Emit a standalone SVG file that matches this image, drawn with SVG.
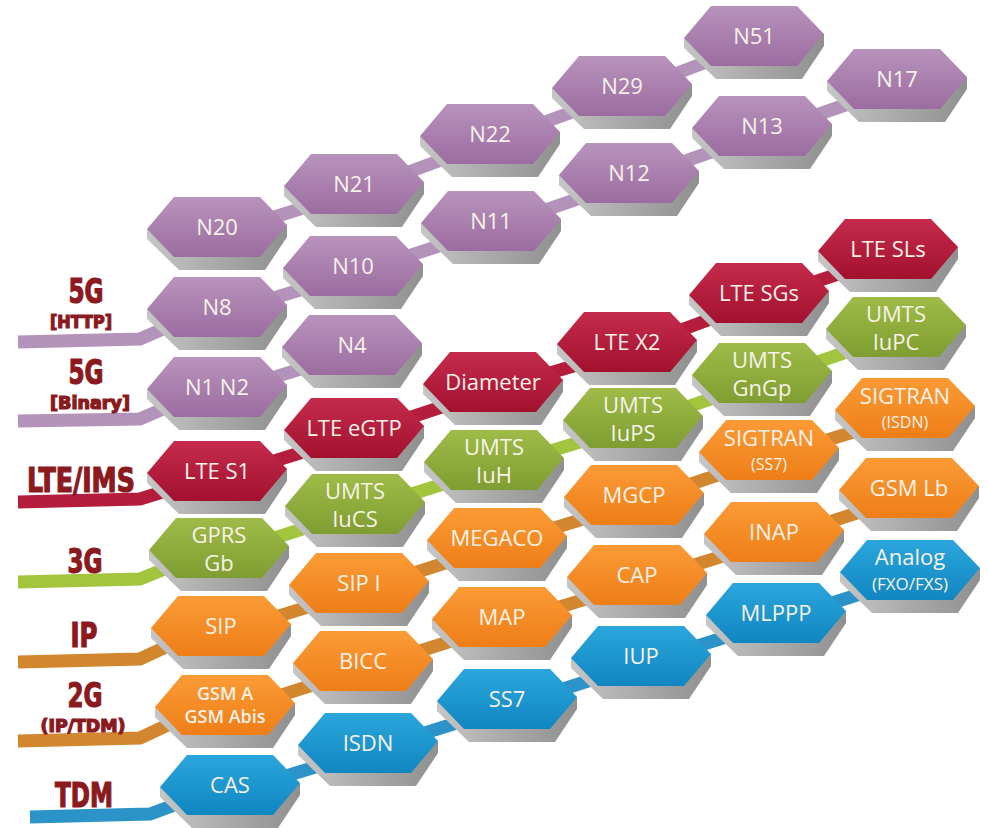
<svg xmlns="http://www.w3.org/2000/svg" xmlns:xlink="http://www.w3.org/1999/xlink" width="988" height="828" viewBox="0 0 988 828">
  <style>
    .lbl { font-family: "Open Sans", "Noto Sans", "DejaVu Sans", sans-serif; font-size: 22px; fill: #f7f2e8; text-anchor: middle; }
    .sm { font-size: 16px; }
    .gsm { font-size: 18px; font-weight: 600; }
    .leg { font-family: "Liberation Sans Narrow", "DejaVu Sans Condensed", "Liberation Sans", sans-serif; font-weight: bold; fill: #8b1a1e; stroke: #8b1a1e; stroke-width: 1.2; text-anchor: middle; }
    .big { font-size: 34px; }
    .sub { font-size: 18px; }
    .wire { fill: none; stroke-width: 13; stroke-linecap: butt; stroke-linejoin: miter; }
    .w-purple { stroke: #b393ba; }
    .w-red { stroke: #b51d3c; }
    .w-green { stroke: #a2c53d; }
    .w-orange { stroke: #d2872e; }
    .w-blue { stroke: #2b93c8; }
    .f-purple { fill: url(#gPurple); }
    .f-red { fill: url(#gRed); }
    .f-green { fill: url(#gGreen); }
    .f-orange { fill: url(#gOrange); }
    .f-blue { fill: url(#gBlue); }
    .side { fill: url(#gSide); }
  </style>
  <defs>
    <linearGradient id="gSide" x1="0" y1="0" x2="1" y2="0">
      <stop offset="0" stop-color="#c6c6c6"/>
      <stop offset="0.5" stop-color="#a9a9a9"/>
      <stop offset="1" stop-color="#909090"/>
    </linearGradient>
    <linearGradient id="gPurple" x1="0" y1="0" x2="0" y2="1">
      <stop offset="0" stop-color="#b893bc"/>
      <stop offset="1" stop-color="#9b6ca0"/>
    </linearGradient>
    <linearGradient id="gRed" x1="0" y1="0" x2="0" y2="1">
      <stop offset="0" stop-color="#c52b4c"/>
      <stop offset="1" stop-color="#a3112f"/>
    </linearGradient>
    <linearGradient id="gGreen" x1="0" y1="0" x2="0" y2="1">
      <stop offset="0" stop-color="#9fbb48"/>
      <stop offset="1" stop-color="#7f9d31"/>
    </linearGradient>
    <linearGradient id="gOrange" x1="0" y1="0" x2="0" y2="1">
      <stop offset="0" stop-color="#fb9b36"/>
      <stop offset="1" stop-color="#ee7e17"/>
    </linearGradient>
    <linearGradient id="gBlue" x1="0" y1="0" x2="0" y2="1">
      <stop offset="0" stop-color="#2ba6dc"/>
      <stop offset="1" stop-color="#1186c1"/>
    </linearGradient>
    <!-- hexagon tile: grey extruded base and coloured top face, centred on 0,0 -->
    <path id="hexSide" d="M-70,2 L-70,12 L-38,43 L48,43 L70,10 L70,-2 Z"/>
    <path id="hexFace" d="M-70,2 L-43,-30 L43,-30 L70,-2 L43,30 L-43,30 Z"/>
  </defs>

  <rect width="988" height="828" fill="#ffffff"/>

  <!-- connectors: legend feeds and links between neighbouring tiles -->
  <g id="connectors">
    <polyline class="wire w-purple" points="18,342 140,339 172,325 200,315"/>
    <polyline class="wire w-purple" points="18,421 140,419 172,405 200,395"/>
    <polyline class="wire w-red" points="18,502 140,499 172,489 200,479"/>
    <polyline class="wire w-green" points="18,582 140,579 172,566 200,556"/>
    <polyline class="wire w-orange" points="18,662 140,659 172,644 200,634"/>
    <polyline class="wire w-orange" points="18,741 140,738 172,723 200,713"/>
    <polyline class="wire w-blue" points="30,817 150,814 180,803 210,793"/>

    <polyline class="wire w-purple" points="217,235 354,192 490,142 622,94 754,44"/>
    <polyline class="wire w-purple" points="217,315 353,274 491,229 629,181 762,134 897,87"/>
    <polyline class="wire w-purple" points="217,395 352,353"/>
    <polyline class="wire w-red" points="217,479 354,436 493,390 627,350 759,301 888,257"/>
    <polyline class="wire w-green" points="219,556 355,512 494,468 633,426 762,381 896,335"/>
    <polyline class="wire w-orange" points="221,634 359,591 497,546 634,503 769,458 905,416"/>
    <polyline class="wire w-orange" points="225,713 363,669 502,625 637,583 774,540 909,496"/>
    <polyline class="wire w-blue" points="230,793 368,751 507,707 641,664 776,621 910,578"/>
  </g>

  <!-- row titles -->
  <g id="legend">
    <text class="leg big" x="86" y="303" textLength="35" lengthAdjust="spacingAndGlyphs">5G</text>
    <text class="leg sub" x="81" y="328" textLength="62" lengthAdjust="spacingAndGlyphs">[HTTP]</text>
    <text class="leg big" x="86" y="384" textLength="35" lengthAdjust="spacingAndGlyphs">5G</text>
    <text class="leg sub" x="90" y="409" textLength="80" lengthAdjust="spacingAndGlyphs">[Binary]</text>
    <text class="leg big" x="81" y="492" textLength="108" lengthAdjust="spacingAndGlyphs">LTE/IMS</text>
    <text class="leg big" x="85" y="573" textLength="35" lengthAdjust="spacingAndGlyphs">3G</text>
    <text class="leg big" x="84" y="647" textLength="27" lengthAdjust="spacingAndGlyphs">IP</text>
    <text class="leg big" x="85" y="707" textLength="35" lengthAdjust="spacingAndGlyphs">2G</text>
    <text class="leg sub" x="83" y="732" textLength="85" lengthAdjust="spacingAndGlyphs">(IP/TDM)</text>
    <text class="leg big" x="84" y="807" textLength="58" lengthAdjust="spacingAndGlyphs">TDM</text>
  </g>

  <!-- 5G tiles -->
  <g id="n20" transform="translate(217,227)"><use href="#hexSide" class="side"/><use href="#hexFace" class="f-purple"/><text class="lbl" y="8">N20</text></g>
  <g id="n21" transform="translate(354,184)"><use href="#hexSide" class="side"/><use href="#hexFace" class="f-purple"/><text class="lbl" y="8">N21</text></g>
  <g id="n22" transform="translate(490,134)"><use href="#hexSide" class="side"/><use href="#hexFace" class="f-purple"/><text class="lbl" y="8">N22</text></g>
  <g id="n29" transform="translate(622,86)"><use href="#hexSide" class="side"/><use href="#hexFace" class="f-purple"/><text class="lbl" y="8">N29</text></g>
  <g id="n51" transform="translate(754,36)"><use href="#hexSide" class="side"/><use href="#hexFace" class="f-purple"/><text class="lbl" y="8">N51</text></g>
  <g id="n8" transform="translate(217,307)"><use href="#hexSide" class="side"/><use href="#hexFace" class="f-purple"/><text class="lbl" y="8">N8</text></g>
  <g id="n10" transform="translate(353,266)"><use href="#hexSide" class="side"/><use href="#hexFace" class="f-purple"/><text class="lbl" y="8">N10</text></g>
  <g id="n11" transform="translate(491,221)"><use href="#hexSide" class="side"/><use href="#hexFace" class="f-purple"/><text class="lbl" y="8">N11</text></g>
  <g id="n12" transform="translate(629,173)"><use href="#hexSide" class="side"/><use href="#hexFace" class="f-purple"/><text class="lbl" y="8">N12</text></g>
  <g id="n13" transform="translate(762,126)"><use href="#hexSide" class="side"/><use href="#hexFace" class="f-purple"/><text class="lbl" y="8">N13</text></g>
  <g id="n17" transform="translate(897,79)"><use href="#hexSide" class="side"/><use href="#hexFace" class="f-purple"/><text class="lbl" y="8">N17</text></g>
  <g id="n1n2" transform="translate(217,387)"><use href="#hexSide" class="side"/><use href="#hexFace" class="f-purple"/><text class="lbl" y="8">N1 N2</text></g>
  <g id="n4" transform="translate(352,345)"><use href="#hexSide" class="side"/><use href="#hexFace" class="f-purple"/><text class="lbl" y="8">N4</text></g>

  <!-- LTE/IMS tiles -->
  <g id="lte-s1" transform="translate(217,471)"><use href="#hexSide" class="side"/><use href="#hexFace" class="f-red"/><text class="lbl" y="8">LTE S1</text></g>
  <g id="lte-egtp" transform="translate(354,428)"><use href="#hexSide" class="side"/><use href="#hexFace" class="f-red"/><text class="lbl" y="8">LTE eGTP</text></g>
  <g id="diameter" transform="translate(493,382)"><use href="#hexSide" class="side"/><use href="#hexFace" class="f-red"/><text class="lbl" y="8">Diameter</text></g>
  <g id="lte-x2" transform="translate(627,342)"><use href="#hexSide" class="side"/><use href="#hexFace" class="f-red"/><text class="lbl" y="8">LTE X2</text></g>
  <g id="lte-sgs" transform="translate(759,293)"><use href="#hexSide" class="side"/><use href="#hexFace" class="f-red"/><text class="lbl" y="8">LTE SGs</text></g>
  <g id="lte-sls" transform="translate(888,249)"><use href="#hexSide" class="side"/><use href="#hexFace" class="f-red"/><text class="lbl" y="8">LTE SLs</text></g>

  <!-- 3G tiles -->
  <g id="gprs-gb" transform="translate(219,548)"><use href="#hexSide" class="side"/><use href="#hexFace" class="f-green"/><text class="lbl" y="-5">GPRS</text><text class="lbl" y="23">Gb</text></g>
  <g id="umts-iucs" transform="translate(355,504)"><use href="#hexSide" class="side"/><use href="#hexFace" class="f-green"/><text class="lbl" y="-5">UMTS</text><text class="lbl" y="23">IuCS</text></g>
  <g id="umts-iuh" transform="translate(494,460)"><use href="#hexSide" class="side"/><use href="#hexFace" class="f-green"/><text class="lbl" y="-5">UMTS</text><text class="lbl" y="23">IuH</text></g>
  <g id="umts-iups" transform="translate(633,418)"><use href="#hexSide" class="side"/><use href="#hexFace" class="f-green"/><text class="lbl" y="-5">UMTS</text><text class="lbl" y="23">IuPS</text></g>
  <g id="umts-gngp" transform="translate(762,373)"><use href="#hexSide" class="side"/><use href="#hexFace" class="f-green"/><text class="lbl" y="-5">UMTS</text><text class="lbl" y="23">GnGp</text></g>
  <g id="umts-iupc" transform="translate(896,327)"><use href="#hexSide" class="side"/><use href="#hexFace" class="f-green"/><text class="lbl" y="-5">UMTS</text><text class="lbl" y="23">IuPC</text></g>

  <!-- IP tiles -->
  <g id="sip" transform="translate(221,626)"><use href="#hexSide" class="side"/><use href="#hexFace" class="f-orange"/><text class="lbl" y="8">SIP</text></g>
  <g id="sip-i" transform="translate(359,583)"><use href="#hexSide" class="side"/><use href="#hexFace" class="f-orange"/><text class="lbl" y="8">SIP I</text></g>
  <g id="megaco" transform="translate(497,538)"><use href="#hexSide" class="side"/><use href="#hexFace" class="f-orange"/><text class="lbl" y="8">MEGACO</text></g>
  <g id="mgcp" transform="translate(634,495)"><use href="#hexSide" class="side"/><use href="#hexFace" class="f-orange"/><text class="lbl" y="8">MGCP</text></g>
  <g id="sigtran-ss7" transform="translate(769,450)"><use href="#hexSide" class="side"/><use href="#hexFace" class="f-orange"/><text class="lbl" y="-4">SIGTRAN</text><text class="lbl sm" y="20">(SS7)</text></g>
  <g id="sigtran-isdn" transform="translate(905,408)"><use href="#hexSide" class="side"/><use href="#hexFace" class="f-orange"/><text class="lbl" y="-4">SIGTRAN</text><text class="lbl sm" y="20">(ISDN)</text></g>

  <!-- 2G tiles -->
  <g id="gsm-a" transform="translate(225,705)"><use href="#hexSide" class="side"/><use href="#hexFace" class="f-orange"/><text class="lbl gsm" y="-5">GSM A</text><text class="lbl gsm" y="18">GSM Abis</text></g>
  <g id="bicc" transform="translate(363,661)"><use href="#hexSide" class="side"/><use href="#hexFace" class="f-orange"/><text class="lbl" y="8">BICC</text></g>
  <g id="map" transform="translate(502,617)"><use href="#hexSide" class="side"/><use href="#hexFace" class="f-orange"/><text class="lbl" y="8">MAP</text></g>
  <g id="cap" transform="translate(637,575)"><use href="#hexSide" class="side"/><use href="#hexFace" class="f-orange"/><text class="lbl" y="8">CAP</text></g>
  <g id="inap" transform="translate(774,532)"><use href="#hexSide" class="side"/><use href="#hexFace" class="f-orange"/><text class="lbl" y="8">INAP</text></g>
  <g id="gsm-lb" transform="translate(909,488)"><use href="#hexSide" class="side"/><use href="#hexFace" class="f-orange"/><text class="lbl" y="8">GSM Lb</text></g>

  <!-- TDM tiles -->
  <g id="cas" transform="translate(230,785)"><use href="#hexSide" class="side"/><use href="#hexFace" class="f-blue"/><text class="lbl" y="8">CAS</text></g>
  <g id="isdn" transform="translate(368,743)"><use href="#hexSide" class="side"/><use href="#hexFace" class="f-blue"/><text class="lbl" y="8">ISDN</text></g>
  <g id="ss7" transform="translate(507,699)"><use href="#hexSide" class="side"/><use href="#hexFace" class="f-blue"/><text class="lbl" y="8">SS7</text></g>
  <g id="iup" transform="translate(641,656)"><use href="#hexSide" class="side"/><use href="#hexFace" class="f-blue"/><text class="lbl" y="8">IUP</text></g>
  <g id="mlppp" transform="translate(776,613)"><use href="#hexSide" class="side"/><use href="#hexFace" class="f-blue"/><text class="lbl" y="8">MLPPP</text></g>
  <g id="analog" transform="translate(910,570)"><use href="#hexSide" class="side"/><use href="#hexFace" class="f-blue"/><text class="lbl" y="-5">Analog</text><text class="lbl sm" y="20" style="font-size:17px">(FXO/FXS)</text></g>
</svg>
